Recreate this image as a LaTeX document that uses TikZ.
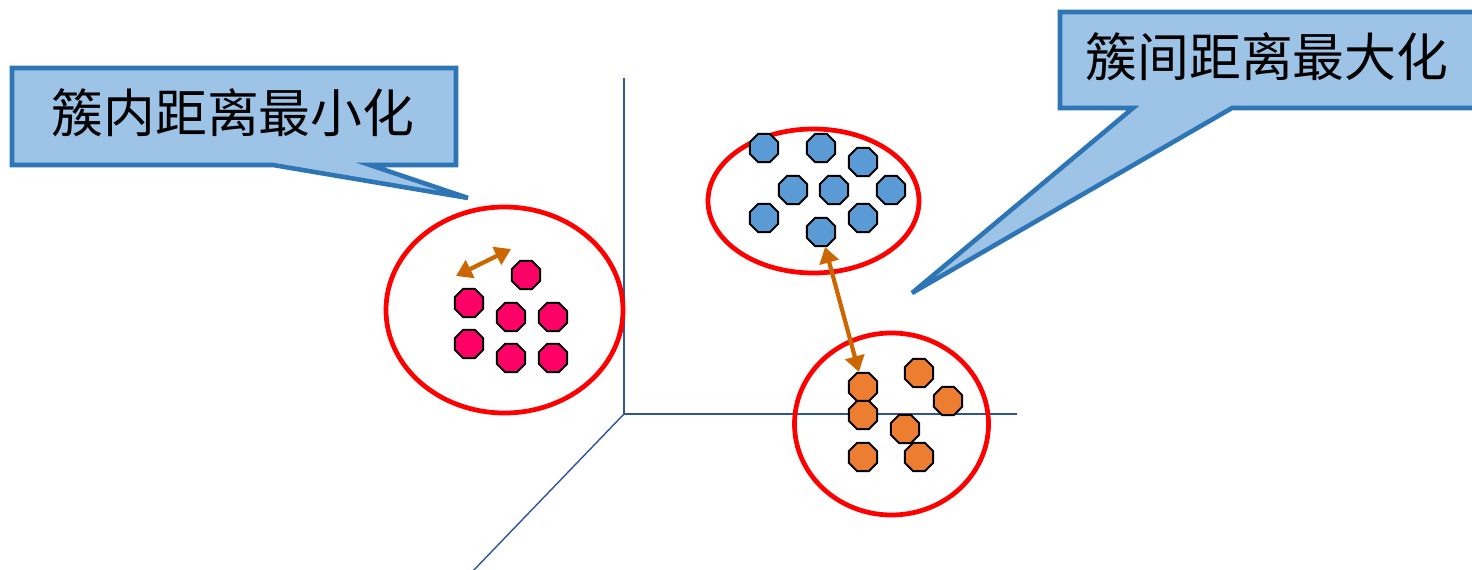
\documentclass[tikz,border=0pt]{standalone}
\usepackage{fontspec}
\newfontfamily\cjk{Noto Sans CJK SC}
\usetikzlibrary{shapes.geometric,arrows.meta}
\definecolor{bubblefill}{HTML}{9DC3E6}
\definecolor{bubbleline}{HTML}{2E75B6}
\definecolor{axisblue}{HTML}{2F5597}
\definecolor{pinkpt}{HTML}{FF0066}
\definecolor{bluept}{HTML}{5B9BD5}
\definecolor{orangept}{HTML}{ED7D31}
\definecolor{gapcol}{HTML}{CC6600}
\begin{document}
\begin{tikzpicture}[x=0.02cm,y=-0.02cm,
    pt/.style={regular polygon,regular polygon sides=8,minimum size=0.61cm,
      inner sep=0pt,draw=black,line width=1.1pt,fill=#1},
    ring/.style={draw=red,line width=2.7pt},
    axisline/.style={draw=axisblue,line width=0.8pt},
    spanarrow/.style={draw=gapcol,line width=2.4pt,
      {Triangle[width=11pt,length=9pt]}-{Triangle[width=11pt,length=9pt]}},
    bubble/.style={fill=bubblefill,draw=bubbleline,line width=2.6pt},
    boxtext/.style={font=\cjk\fontsize{29.5}{32}\selectfont,inner sep=0pt}]

  \useasboundingbox (0,0) rectangle (1472,570);
  \clip (0,0) rectangle (1472,570);

  % axes
  \coordinate (o) at (624,414);
  \draw [axisline] (624,78) -- (o) -- (1017,414);
  \draw [axisline] (o) -- (472,572);

  % callouts
  \draw [bubble] (12,68) -- (456,68) -- (456,165) -- (370,165) -- (468,198)
    -- (273,165) -- (12,165) -- cycle;
  \node [boxtext] (inner) at (233,113) {簇内距离最小化};
  \draw [bubble] (1060,12) -- (1490,12) -- (1490,108) -- (1232,108) -- (912,293)
    -- (1133,108) -- (1060,108) -- cycle;
  \node [boxtext] (between) at (1267,57) {簇间距离最大化};

  % clusters
  \draw [ring] (504.5,310) ellipse [x radius=118.5, y radius=103];
  \draw [ring] (813.5,201) ellipse [x radius=105.5, y radius=72];
  \draw [ring] (891.5,424) ellipse [x radius=97, y radius=91];

  \foreach \x/\y [count=\k] in {526/275,469/303,511/317,553/317,469/344,511/358,553/358}
    \node [pt=pinkpt] (p\k) at (\x,\y) {};
  \foreach \x/\y [count=\k] in {764/148,821/148,863/162,793/190,834/190,891/190,
      764/218,863/218,821/232}
    \node [pt=bluept] (b\k) at (\x,\y) {};
  \foreach \x/\y [count=\k] in {863/387,863/415,919/373,948/401,905/429,863/457,919/457}
    \node [pt=orangept] (r\k) at (\x,\y) {};

  % distances
  \coordinate (pa) at (456,276);
  \coordinate (pb) at (511,249);
  \draw [spanarrow] (pa) -- (pb);
  \draw [spanarrow] (b9) -- (r1);

\end{tikzpicture}
\end{document}
